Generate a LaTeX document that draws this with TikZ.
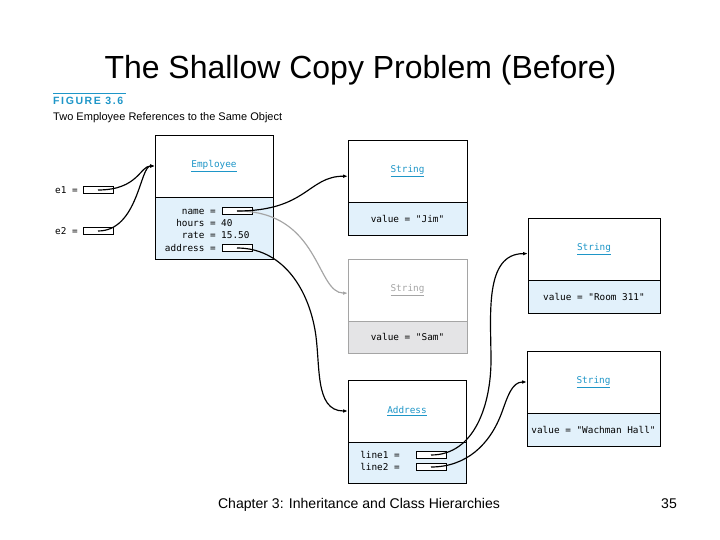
\documentclass[tikz,border=0pt]{standalone}
\usepackage{fontspec}
\setmainfont{Liberation Sans}
\setmonofont{DejaVu Sans Mono}
\usepackage{tikz}
\usetikzlibrary{positioning,arrows.meta}

\definecolor{figblue}{RGB}{30,150,200}
\definecolor{fieldblue}{RGB}{226,241,251}
\definecolor{ghost}{RGB}{165,165,165}
\definecolor{ghostfill}{RGB}{228,228,230}

\begin{document}
\begin{tikzpicture}[
        x=0.03cm, y=-0.03cm,
        font=\ttfamily\fontsize{8}{9}\selectfont,
        >={Latex[length=1.5mm, width=1.1mm]},
        head/.style={rectangle, draw, line width=0.8pt, fill=white, outer sep=0pt,
                     minimum width=#1, minimum height=1.86cm, anchor=north west,
                     text=figblue},
        body/.style={rectangle, draw, line width=0.8pt, fill=fieldblue, outer sep=0pt,
                     minimum width=#1, inner sep=0pt},
        ref/.style={rectangle, draw, line width=0.6pt, fill=white, minimum width=0.9cm,
                    minimum height=0.21cm, inner sep=0pt},
        lab/.style={anchor=mid east, inner sep=0pt},
        val/.style={anchor=mid west, inner sep=0pt},
        link/.style={->, line width=1pt},
        ghostlink/.style={->, line width=1pt, ghost},
    ]
    \useasboundingbox (0,0) rectangle (720,540);

    \node[font=\rmfamily\fontsize{27.3}{32}\selectfont, anchor=base] (title) at (360.5,79)
        {The Shallow Copy Problem (Before)};
    \node[font=\rmfamily\fontsize{12}{14}\selectfont, anchor=base] (chap) at (359,508)
        {Chapter 3: Inheritance and Class Hierarchies};
    \node[font=\rmfamily\fontsize{12}{14}\selectfont, anchor=base] (page) at (669,508) {35};

    \draw[figblue, line width=0.8pt] (53,93) -- (126,93);
    \node[font=\rmfamily\bfseries\fontsize{9}{10}\selectfont\addfontfeature{LetterSpace=15},
          text=figblue, anchor=base west, inner sep=0pt] (fig) at (53,105) {FIGURE 3.6};
    \node[font=\rmfamily\fontsize{9.4}{11}\selectfont, anchor=base west, inner sep=0pt]
        (figcap) at (53,121) {Two Employee References to the Same Object};

    \node[head=3.54cm] (empH) at (155,135) {\underline{Employee}};
    \node[body=3.54cm, minimum height=1.86cm, below=0pt of empH] (empB) {};
    \foreach \n/\y/\lbl in {nm/211/name, hr/223/hours, rt/235/rate, ad/248/address}
        \node[lab] (\n) at (216,\y) {\lbl{} =};
    \node[val] (hours) at (221,223) {40};
    \node[val] (rate) at (221,235) {15.50};
    \node[ref] (nameR) at (237,211) {};
    \node[ref] (addrR) at (237,248) {};

    \node[val] (e1) at (55,190) {e1 =};
    \node[ref] (e1R) at (98,190) {};
    \node[val] (e2) at (55,231) {e2 =};
    \node[ref] (e2R) at (98,231) {};

    \foreach \n/\x/\y/\w/\txt in {jim/348/140/3.57/{"Jim"}, room/528/218/3.96/{"Room 311"},
                                 wach/527/351/3.99/{"Wachman Hall"}} {
        \node[head=\w cm] (\n H) at (\x,\y) {\underline{String}};
        \node[body=\w cm, minimum height=0.99cm, below=0pt of \n H] (\n B) {value = \txt};
    }
    \node[head=3.57cm, draw=ghost, text=ghost] (samH) at (348,259) {\underline{String}};
    \node[body=3.57cm, draw=ghost, fill=ghostfill, minimum height=0.96cm,
          below=0pt of samH] (samB) {value = "Sam"};

    \node[head=3.54cm] (addrH) at (348,380) {\underline{Address}};
    \node[body=3.54cm, minimum height=1.23cm, below=0pt of addrH] (addrB) {};
    \node[lab] (l1) at (400,455) {line1 =};
    \node[ref] (l1R) at (431,455) {};
    \node[lab] (l2) at (400,467) {line2 =};
    \node[ref] (l2R) at (431,467) {};

    \coordinate (addrBend) at (315,330);
    \coordinate (l1Bend) at (491,360);
    \coordinate (l2Bend) at (502,412);

    \draw[link] (e1R.center) to[out=0, in=180, out distance=1.2cm, in distance=0.45cm] (empH.west);
    \draw[link] (e2R.center) to[out=0, in=180, out distance=1.2cm, in distance=0.45cm] (empH.west);
    \draw[ghostlink] (nameR.center) to[out=0, in=180, out distance=2.5cm, in distance=0.96cm] (samH.183);
    \draw[link] (nameR.center) to[out=0, in=180, out distance=2.1cm, in distance=1.2cm] (jimH.185);
    \draw[link] (addrR.center) to[out=0, in=100] (addrBend) to[out=-80, in=180] (addrH.west);
    \draw[link] (l1R.center) to[out=0, in=-90] (l1Bend) to[out=90, in=180] (roomH.184);
    \draw[link] (l2R.center) to[out=0, in=-110] (l2Bend) to[out=70, in=180] (wachH.west);
\end{tikzpicture}
\end{document}
